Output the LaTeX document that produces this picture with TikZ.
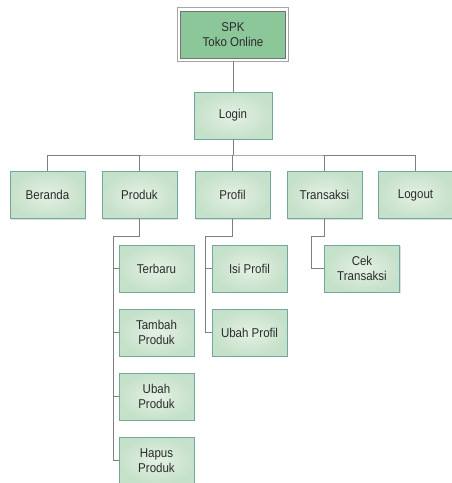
\documentclass[tikz,border=0pt]{standalone}
\usepackage{fontspec}
\setmainfont{Liberation Sans}[FakeStretch=0.9]
\usetikzlibrary{shadows}
\definecolor{boxin}{HTML}{E4F1E4}
\definecolor{boxout}{HTML}{C6E1CA}
\definecolor{boxline}{HTML}{6FA8A0}
\definecolor{topfill}{HTML}{8CC79A}
\definecolor{wire}{HTML}{7F7F7F}
\definecolor{txt}{HTML}{2B2B2B}
\tikzset{
  item/.style={draw=boxline, line width=0.8pt, inner color=boxin, outer color=boxout,
    minimum width=75pt, minimum height=47pt, align=center, text=txt,
    font=\fontsize{12.8}{15.5}\selectfont,
    drop shadow={opacity=0.25, shadow xshift=1.2pt, shadow yshift=-1.2pt}},
  topbox/.style={draw=wire!90!black, line width=0.8pt, fill=topfill,
    minimum width=105pt, minimum height=47pt, align=center, text=txt,
    font=\fontsize{12.8}{15.5}\selectfont},
  frame/.style={draw=wire!70, line width=0.8pt},
  wire/.style={draw=wire, line width=0.9pt}
}
\begin{document}
\begin{tikzpicture}[x=1pt,y=1pt]
\useasboundingbox (0,0) rectangle (452,-483);
\node[topbox] (spk) at (233,-34.5) {SPK\\Toko Online};
\path[frame] ([shift={(-3pt,-2.5pt)}]spk.south west) rectangle ([shift={(2.5pt,3pt)}]spk.north east);
\node[item, minimum width=78pt] (login) at (233,-115.5) {Login};
\node[item] (beranda) at (47.5,-195) {Beranda};
\node[item] (produk) at (139.5,-195) {Produk};
\node[item] (profil) at (232.5,-195) {Profil};
\node[item] (transaksi) at (324.5,-195) {Transaksi};
\node[item] (logout) at (415.5,-195) {Logout};
\node[item] (terbaru) at (156.5,-268.5) {Terbaru};
\node[item] (tambah) at (156.5,-332.5) {Tambah\\Produk};
\node[item] (ubahp) at (156.5,-396.5) {Ubah\\Produk};
\node[item] (hapus) at (156.5,-460.5) {Hapus\\Produk};
\node[item] (isi) at (249.5,-268.5) {Isi Profil};
\node[item] (ubahprof) at (249.5,-332.5) {Ubah Profil};
\node[item] (cek) at (362,-268.5) {Cek\\Transaksi};
\coordinate (bus) at (233,-155);
\coordinate (rp) at (113,-236);
\coordinate (rf) at (205,-236);
\coordinate (rt) at (311,-236);
\path[wire] (spk.south) ++(0,-2.5) -- (login.north);
\path[wire] (login.south) -- (bus);
\path[wire] (beranda.north) |- (bus) -| (logout.north);
\path[wire] (produk.north) -- (produk.north |- bus);
\path[wire] (profil.north) -- (profil.north |- bus);
\path[wire] (transaksi.north) -- (transaksi.north |- bus);
\path[wire] (produk.south) |- (rp) |- (hapus.west);
\path[wire] (rp |- terbaru.west) -- (terbaru.west);
\path[wire] (rp |- tambah.west) -- (tambah.west);
\path[wire] (rp |- ubahp.west) -- (ubahp.west);
\path[wire] (profil.south) |- (rf) |- (ubahprof.west);
\path[wire] (rf |- isi.west) -- (isi.west);
\path[wire] (transaksi.south) |- (rt) |- (cek.west);
\end{tikzpicture}
\end{document}
